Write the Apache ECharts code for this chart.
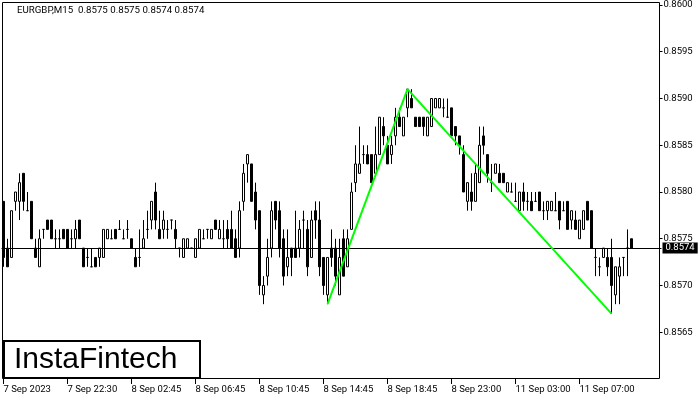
<!DOCTYPE html>
<html><head><meta charset="utf-8">
<script src="https://cdn.jsdelivr.net/npm/echarts@6/dist/echarts.min.js"></script>
<style>html,body{margin:0;padding:0;background:#fff}#c{width:700px;height:400px}</style>
</head><body><div id="c"></div>
<script>
const symbol = 'EURGBP';
const timeframe = 'M15';
const openP = [
0.8579,0.8574,0.8573,0.8579,0.8579,0.8582,0.8578,0.8579,0.8574,0.8572,
0.8576,0.8577,0.8577,0.8575,0.8575,0.8576,0.8576,0.8575,0.8575,0.8577,
0.8574,0.8573,0.8572,0.8573,0.8573,0.8573,0.8575,0.8575,0.8576,0.8576,
0.8575,0.8576,0.8575,0.8573,0.8573,0.8574,0.8576,0.8577,0.8580,0.8576,
0.8576,0.8576,0.8577,0.8576,0.8574,0.8573,0.8574,0.8574,0.8573,0.8574,
0.8575,0.8576,0.8575,0.8577,0.8575,0.8575,0.8576,0.8576,0.8575,0.8574,
0.8579,0.8583,0.8583,0.8580,0.8578,0.8569,0.8571,0.8574,0.8579,0.8578,
0.8575,0.8572,0.8574,0.8574,0.8574,0.8577,0.8576,0.8573,0.8578,0.8577,
0.8573,0.8569,0.8574,0.8574,0.8569,0.8575,0.8572,0.8576,0.8581,0.8582,
0.8584,0.8584,0.8584,0.8582,0.8584,0.8587,0.8585,0.8584,0.8586,0.8588,
0.8586,0.8589,0.8590,0.8588,0.8588,0.8588,0.8586,0.8587,0.8589,0.8589,
0.8589,0.8588,0.8589,0.8587,0.8586,0.8584,0.8579,0.8580,0.8579,0.8581,
0.8586,0.8584,0.8581,0.8582,0.8582,0.8582,0.8580,0.8580,0.8579,0.8578,
0.8580,0.8579,0.8579,0.8579,0.8580,0.8578,0.8578,0.8578,0.8578,0.8579,
0.8578,0.8579,0.8577,0.8577,0.8575,0.8576,0.8579,0.8578,0.8573,0.8572,
0.8573,0.8573,0.8573,0.8569,0.8571,0.8573,0.8574,0.8575];
const highP = [
0.8579,0.8575,0.8578,0.8580,0.8582,0.8582,0.8580,0.8579,0.8575,0.8576,
0.8576,0.8577,0.8577,0.8576,0.8576,0.8576,0.8576,0.8576,0.8577,0.8577,
0.8574,0.8574,0.8574,0.8573,0.8574,0.8576,0.8576,0.8576,0.8576,0.8577,
0.8576,0.8577,0.8575,0.8574,0.8576,0.8577,0.8578,0.8579,0.8581,0.8578,
0.8578,0.8577,0.8577,0.8577,0.8574,0.8575,0.8575,0.8574,0.8575,0.8576,
0.8576,0.8576,0.8576,0.8577,0.8577,0.8577,0.8577,0.8578,0.8576,0.8579,
0.8583,0.8584,0.8583,0.8581,0.8578,0.8571,0.8575,0.8579,0.8579,0.8579,
0.8576,0.8576,0.8574,0.8578,0.8577,0.8578,0.8577,0.8578,0.8579,0.8579,
0.8573,0.8573,0.8576,0.8575,0.8575,0.8576,0.8576,0.8581,0.8585,0.8587,
0.8585,0.8585,0.8584,0.8587,0.8588,0.8588,0.8586,0.8586,0.8589,0.8589,
0.8588,0.8591,0.8591,0.8588,0.8588,0.8588,0.8588,0.8590,0.8590,0.8590,
0.8590,0.8590,0.8589,0.8587,0.8586,0.8585,0.8581,0.8582,0.8583,0.8587,
0.8587,0.8584,0.8583,0.8583,0.8583,0.8582,0.8581,0.8581,0.8581,0.8580,
0.8581,0.8580,0.8580,0.8580,0.8580,0.8579,0.8579,0.8579,0.8580,0.8579,
0.8579,0.8579,0.8578,0.8578,0.8577,0.8578,0.8579,0.8578,0.8574,0.8573,
0.8574,0.8574,0.8575,0.8572,0.8573,0.8573,0.8576,0.8575];
const lowP = [
0.8572,0.8572,0.8573,0.8578,0.8577,0.8578,0.8578,0.8575,0.8573,0.8572,
0.8575,0.8576,0.8575,0.8574,0.8574,0.8575,0.8574,0.8574,0.8574,0.8575,
0.8572,0.8572,0.8572,0.8572,0.8572,0.8573,0.8575,0.8575,0.8575,0.8576,
0.8575,0.8575,0.8574,0.8572,0.8572,0.8574,0.8575,0.8576,0.8576,0.8575,
0.8575,0.8575,0.8576,0.8574,0.8573,0.8573,0.8574,0.8574,0.8573,0.8574,
0.8575,0.8575,0.8575,0.8576,0.8575,0.8574,0.8574,0.8574,0.8573,0.8573,
0.8578,0.8581,0.8579,0.8576,0.8569,0.8568,0.8570,0.8573,0.8576,0.8573,
0.8570,0.8571,0.8571,0.8573,0.8573,0.8574,0.8571,0.8573,0.8575,0.8571,
0.8569,0.8568,0.8572,0.8570,0.8569,0.8571,0.8572,0.8576,0.8580,0.8582,
0.8583,0.8583,0.8581,0.8582,0.8584,0.8585,0.8583,0.8583,0.8585,0.8587,
0.8586,0.8588,0.8589,0.8587,0.8587,0.8586,0.8586,0.8587,0.8589,0.8589,
0.8588,0.8588,0.8586,0.8585,0.8584,0.8580,0.8578,0.8578,0.8579,0.8581,
0.8584,0.8581,0.8580,0.8582,0.8581,0.8581,0.8580,0.8580,0.8579,0.8578,
0.8578,0.8578,0.8578,0.8579,0.8578,0.8577,0.8577,0.8578,0.8578,0.8576,
0.8578,0.8576,0.8576,0.8576,0.8575,0.8576,0.8577,0.8574,0.8571,0.8571,
0.8573,0.8571,0.8567,0.8568,0.8568,0.8571,0.8571,0.8574];
const closeP = [
0.8573,0.8572,0.8578,0.8580,0.8581,0.8579,0.8578,0.8575,0.8573,0.8575,
0.8576,0.8576,0.8575,0.8575,0.8575,0.8575,0.8574,0.8575,0.8576,0.8575,
0.8572,0.8573,0.8572,0.8572,0.8574,0.8576,0.8576,0.8575,0.8575,0.8576,
0.8575,0.8576,0.8574,0.8572,0.8573,0.8575,0.8576,0.8579,0.8577,0.8575,
0.8577,0.8576,0.8577,0.8575,0.8574,0.8575,0.8575,0.8574,0.8575,0.8576,
0.8575,0.8576,0.8576,0.8576,0.8576,0.8575,0.8575,0.8574,0.8573,0.8578,
0.8582,0.8584,0.8579,0.8577,0.8570,0.8570,0.8573,0.8578,0.8577,0.8574,
0.8571,0.8573,0.8573,0.8573,0.8576,0.8577,0.8572,0.8577,0.8577,0.8572,
0.8570,0.8573,0.8573,0.8571,0.8573,0.8571,0.8575,0.8580,0.8583,0.8583,
0.8584,0.8583,0.8581,0.8584,0.8588,0.8586,0.8583,0.8585,0.8588,0.8587,
0.8588,0.8591,0.8589,0.8587,0.8587,0.8587,0.8588,0.8590,0.8590,0.8590,
0.8589,0.8588,0.8586,0.8586,0.8585,0.8580,0.8581,0.8579,0.8582,0.8585,
0.8585,0.8582,0.8581,0.8583,0.8581,0.8581,0.8581,0.8580,0.8579,0.8580,
0.8579,0.8579,0.8578,0.8579,0.8578,0.8578,0.8579,0.8579,0.8578,0.8577,
0.8578,0.8576,0.8578,0.8576,0.8577,0.8578,0.8577,0.8574,0.8573,0.8572,
0.8574,0.8572,0.8570,0.8572,0.8572,0.8573,0.8574,0.8574];
const xTickLabels = ['7 Sep 2023','7 Sep 22:30','8 Sep 02:45','8 Sep 06:45','8 Sep 10:45',
  '8 Sep 14:45','8 Sep 18:45','8 Sep 23:00','11 Sep 03:00','11 Sep 07:00'];
const xTickEvery = 16;
const slotCount = 165;
const yMin = 0.8560, yMax = 0.8600, yStep = 0.0005;
const patternIdx = [81, 101, 152];
const patternVal = [0.8568, 0.8591, 0.8567];
const logoText = 'InstaFintech';

const FONT = 'Roboto';
const n = openP.length;
const categories = Array.from({length: slotCount}, (_, i) => String(i));
const candles = openP.map((o, i) => [o, closeP[i], lowP[i], highP[i]]);
const pattern = Array.from({length: n}, () => null);
patternIdx.forEach((ix, k) => { pattern[ix] = patternVal[k]; });
const last = n - 1;
const f4 = v => Number(v).toFixed(4);
const isTick = idx => idx % xTickEvery === 0 && idx / xTickEvery < xTickLabels.length;

const chart = echarts.init(document.getElementById('c'), null, {renderer: 'canvas'});
chart.setOption({
  animation: false,
  backgroundColor: '#fff',
  title: {
    text: symbol + ',' + timeframe + '  ' + [openP[last], highP[last], lowP[last], closeP[last]].map(f4).join(' '),
    left: 17, top: 6, padding: 0,
    textStyle: {fontSize: 9.7, fontWeight: 'normal', color: '#000', fontFamily: FONT}
  },
  grid: {left: 1.5, top: 3, width: 660, height: 376, show: false},
  xAxis: {
    type: 'category', data: categories, boundaryGap: true,
    axisLine: {show: false},
    axisTick: {show: true, alignWithLabel: true, length: 5, interval: (i) => isTick(i), lineStyle: {color: '#000'}},
    axisLabel: {
      interval: (i) => isTick(i), align: 'left', margin: 6,
      fontSize: 9.5, color: '#000', fontFamily: FONT,
      formatter: (v, i) => isTick(i) ? xTickLabels[i / xTickEvery] : ''
    },
    splitLine: {show: false}
  },
  yAxis: {
    type: 'value', position: 'right', offset: -2,
    min: yMin, max: yMax, interval: yStep, scale: true,
    axisLine: {show: false},
    axisTick: {show: true, length: 3, lineStyle: {color: '#000'}},
    axisLabel: {showMinLabel: false, margin: 4, fontSize: 9.5, color: '#000', fontFamily: FONT, formatter: f4},
    splitLine: {show: false}
  },
  series: [
    {
      type: 'candlestick', data: candles, barWidth: 2,
      itemStyle: {color: '#fff', color0: '#000', borderColor: '#000', borderColor0: '#000', borderColorDoji: '#000', borderWidth: 1},
      silent: true,
      markLine: {
        silent: true, symbol: ['none', 'none'], precision: 4,
        lineStyle: {color: '#000', width: 1, type: 'solid'},
        label: {show: true, position: 'end', distance: 1, formatter: p => f4(p.value),
          backgroundColor: '#000', color: '#fff', padding: [1, 3, 0, 3], fontSize: 9.5, fontFamily: FONT},
        emphasis: {disabled: true},
        data: [{yAxis: closeP[last]}]
      }
    },
    {
      type: 'line', data: pattern, connectNulls: true, symbol: 'none', silent: true, z: 5,
      lineStyle: {color: '#00ff00', width: 2}
    }
  ],
  graphic: [
    {type: 'rect', shape: {x: 2.5, y: 2.5, width: 657, height: 376}, style: {fill: 'none', stroke: '#000', lineWidth: 1}, z: 50, silent: true},
    {type: 'rect', shape: {x: 4, y: 341, width: 196, height: 37}, style: {fill: '#fff', stroke: '#000', lineWidth: 2}, z: 60, silent: true},
    {type: 'text', x: 14, y: 360, style: {text: logoText, font: '30px "Liberation Sans"', fill: '#000', verticalAlign: 'middle'}, z: 61, silent: true}
  ]
});
</script></body></html>
